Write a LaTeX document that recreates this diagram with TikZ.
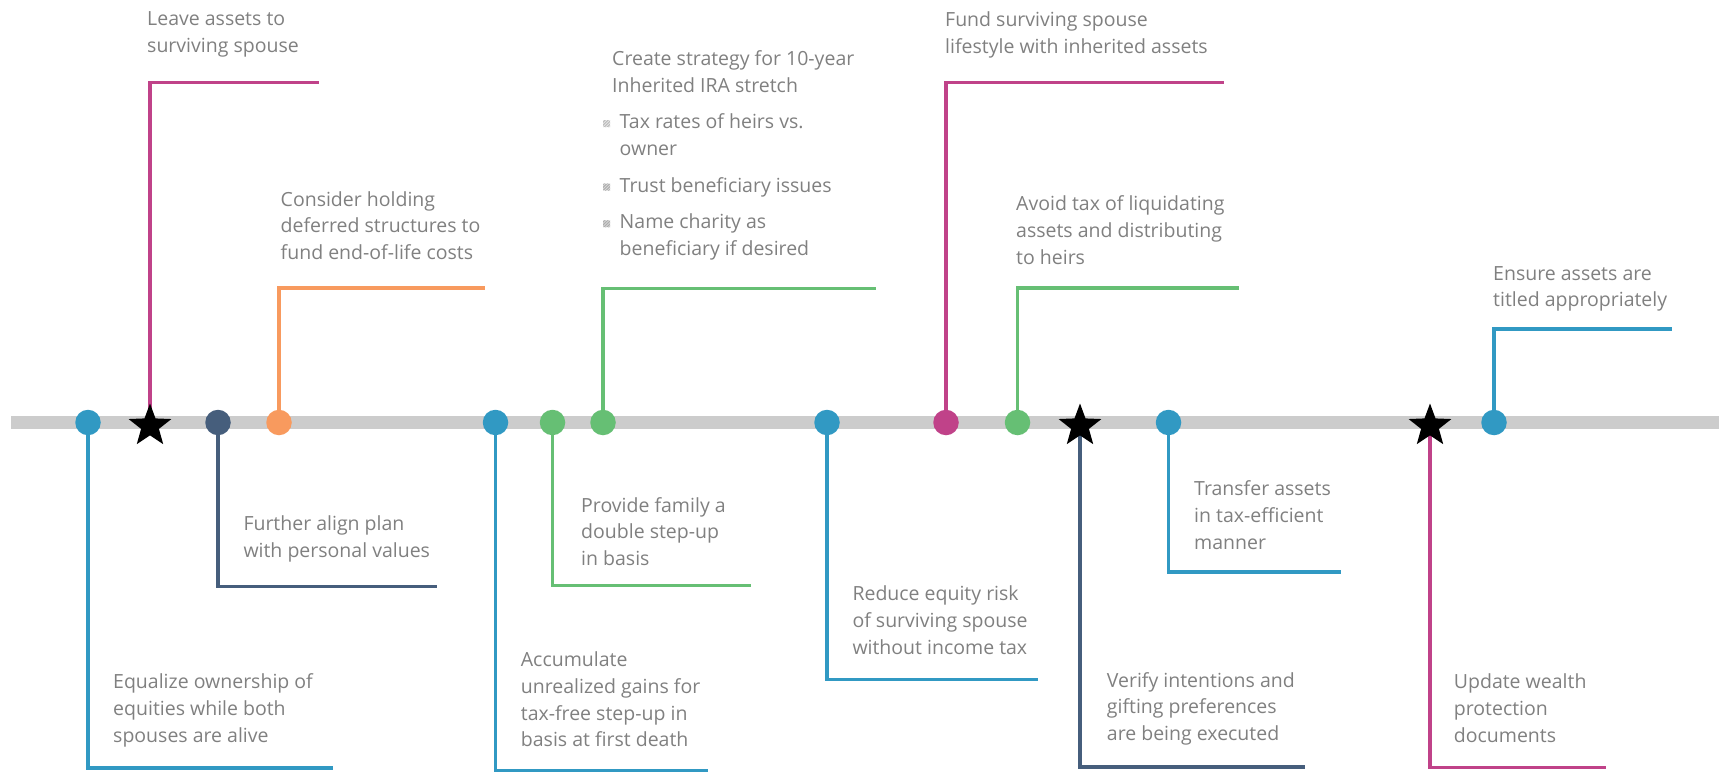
\documentclass[tikz,border=0pt]{standalone}
\usepackage{fontspec}
\setmainfont{Open Sans}
\usetikzlibrary{shapes.geometric,backgrounds}

\definecolor{tlblue}{RGB}{49,153,195}
\definecolor{tlnavy}{RGB}{70,94,124}
\definecolor{tlorange}{RGB}{248,154,94}
\definecolor{tlgreen}{RGB}{102,191,116}
\definecolor{tlpink}{RGB}{192,66,137}
\definecolor{tlgray}{RGB}{204,204,204}
\definecolor{txtgray}{RGB}{128,128,128}

% small hatched square used as bullet
\newcommand{\hatchmark}{\makebox[16.5pt][l]{\tikz[baseline={(0pt,-1.5pt)}]{%
  \clip (0pt,0pt) rectangle (7pt,7pt);
  \foreach \k in {-7,-5.5,...,7} \draw[txtgray!80, line width=0.45pt] (\k pt,0pt) -- ++(7pt,7pt);}}}
\newcommand{\hangin}{\hspace*{16.5pt}}

\tikzset{
  dot/.style={circle, fill=#1, minimum size=25.5pt, inner sep=0pt},
  starmark/.style={star, star points=5, star point ratio=2.4, fill=black,
    minimum size=45pt, inner sep=0pt},
  lead/.style={draw=#1, line width=3.8pt},
  note/.style={anchor=base west, align=left, inner sep=0pt, text=txtgray,
    font=\fontsize{19.5}{26.7}\selectfont}
}

\begin{document}
\begin{tikzpicture}[x=1pt, y=-1pt]
\useasboundingbox (0,0) rectangle (1719,773);

% timeline ends
\coordinate (tl0) at (11,422.5);
\coordinate (tl1) at (1719,422.5);

% marks on the timeline
\node[dot=tlblue]   (d1)  at (88,422.5)     {};
\node[starmark]     (s1)  at (150,426)      {};
\node[dot=tlnavy]   (d2)  at (218,422.5)    {};
\node[dot=tlorange] (d3)  at (279,422.5)    {};
\node[dot=tlblue]   (d4)  at (495.5,422.5)  {};
\node[dot=tlgreen]  (d5)  at (552.5,422.5)  {};
\node[dot=tlgreen]  (d6)  at (603,422.5)    {};
\node[dot=tlblue]   (d7)  at (827,422.5)    {};
\node[dot=tlpink]   (d8)  at (946,422.5)    {};
\node[dot=tlgreen]  (d9)  at (1017.5,422.5) {};
\node[starmark]     (s2)  at (1080,426)     {};
\node[dot=tlblue]   (d10) at (1168.5,422.5) {};
\node[starmark]     (s3)  at (1430,426)     {};
\node[dot=tlblue]   (d11) at (1494,422.5)   {};

% ends of the leader lines
\coordinate (c1)  at (319,82.5);
\coordinate (c2)  at (485,288);
\coordinate (c3)  at (876,288.5);
\coordinate (c4)  at (1223.5,82.5);
\coordinate (c5)  at (1239,288);
\coordinate (c6)  at (1672,328.7);
\coordinate (c7)  at (333,768);
\coordinate (c8)  at (437,586.5);
\coordinate (c9)  at (708,770.5);
\coordinate (c10) at (751,585.5);
\coordinate (c11) at (1038,679.5);
\coordinate (c12) at (1305,767);
\coordinate (c13) at (1341,572.3);
\coordinate (c14) at (1606,767.4);

\begin{pgfonlayer}{background}
\draw[tlgray, line width=13.3pt] (tl0) -- (tl1);
% above the line
\draw[lead=tlpink]   (s1.center)  |- (c1);
\draw[lead=tlorange] (d3.center)  |- (c2);
\draw[lead=tlgreen]  (d6.center)  |- (c3);
\draw[lead=tlpink]   (d8.center)  |- (c4);
\draw[lead=tlgreen]  (d9.center)  |- (c5);
\draw[lead=tlblue]   (d11.center) |- (c6);
% below the line
\draw[lead=tlblue]   (d1.center)  |- (c7);
\draw[lead=tlnavy]   (d2.center)  |- (c8);
\draw[lead=tlblue]   (d4.center)  |- (c9);
\draw[lead=tlgreen]  (d5.center)  |- (c10);
\draw[lead=tlblue]   (d7.center)  |- (c11);
\draw[lead=tlnavy]   (s2.center)  |- (c12);
\draw[lead=tlblue]   (d10.center) |- (c13);
\draw[lead=tlpink]   (s3.center)  |- (c14);
\end{pgfonlayer}

% texts above (placed at the baseline of their last line)
\node[note] (t1) at (147,52.7) {Leave assets to\\surviving spouse};
\node[note] (t2) at (280.5,259.5) {Consider holding\\deferred structures to\\fund end-of-life costs};
\node[note] (t3) at (603,255.5) {\hspace*{9pt}Create strategy for 10-year\\
  \hspace*{9pt}Inherited IRA stretch\\[10pt]
  \hatchmark Tax rates of heirs vs.\\\hangin owner\\[10pt]
  \hatchmark Trust beneficiary issues\\[10pt]
  \hatchmark Name charity as\\\hangin beneficiary if desired};
\node[note] (t4) at (945,53.4) {Fund surviving spouse\\lifestyle with inherited assets};
\node[note] (t5) at (1016,264.1) {Avoid tax of liquidating\\assets and distributing\\to heirs};
\node[note] (t6) at (1493,306.7) {Ensure assets are\\titled appropriately};

% texts below
\node[note] (t7) at (113,742.1) {Equalize ownership of\\equities while both\\spouses are alive};
\node[note] (t8) at (243.3,557.2) {Further align plan\\with personal values};
\node[note] (t9) at (520.7,746.9) {Accumulate\\unrealized gains for\\tax-free step-up in\\basis at first death};
\node[note] (t10) at (581,565.6) {Provide family a\\double step-up\\in basis};
\node[note] (t11) at (852.3,654) {Reduce equity risk\\of surviving spouse\\without income tax};
\node[note] (t12) at (1106.7,740.4) {Verify intentions and\\gifting preferences\\are being executed};
\node[note] (t13) at (1194,549.2) {Transfer assets\\in tax-efficient\\manner};
\node[note] (t14) at (1453.7,742.1) {Update wealth\\protection\\documents};
\end{tikzpicture}
\end{document}
